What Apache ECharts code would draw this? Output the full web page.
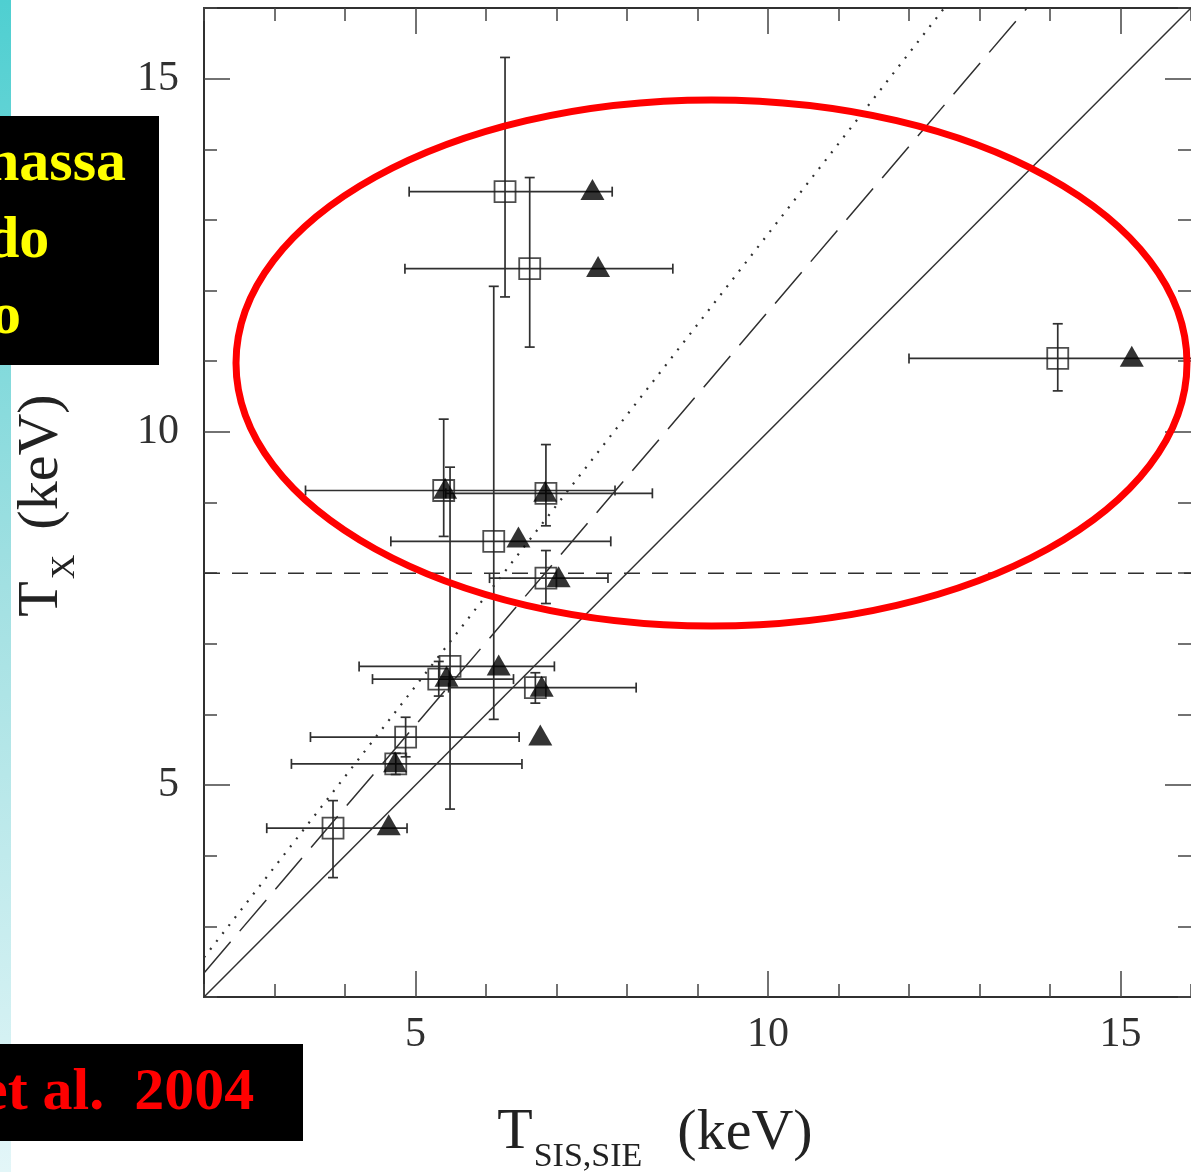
<!DOCTYPE html>
<html>
<head>
<meta charset="utf-8">
<script src="https://cdn.jsdelivr.net/npm/echarts@6/dist/echarts.min.js"></script>
<style>
  html, body { margin: 0; padding: 0; background: #ffffff; }
  #chart { width: 1191px; height: 1172px; }
</style>
</head>
<body>
<div id="chart"></div>
<script>
// Axis ranges and tick labels
const xRange = [2, 16];
const yRange = [2, 16];
const majorTicks = [5, 10, 15];

// Open squares: lensing temperature vs X-ray temperature, with error bars
const sqX   = [6.27, 6.62, 14.11, 5.40, 6.85, 6.11, 6.85, 5.49, 5.33, 6.70, 4.86, 4.72, 3.83];
const sqY   = [13.40, 12.31, 11.04, 9.17, 9.13, 8.45, 7.93, 6.68, 6.50, 6.38, 5.68, 5.30, 4.39];
const sqXLo = [4.91, 4.85, 12.00, 3.44, 5.43, 4.65, 6.05, 4.20, 4.39, 5.47, 3.51, 3.24, 2.89];
const sqXHi = [7.79, 8.65, 16.60, 7.83, 8.36, 7.77, 7.73, 6.97, 6.39, 8.13, 6.47, 6.51, 4.88];
const sqYLo = [11.91, 11.20, 10.58, 8.52, 8.67, 5.93, 7.57, 4.66, 6.26, 6.16, 5.40, 5.15, 3.69];
const sqYHi = [15.30, 13.60, 11.53, 10.18, 9.82, 12.06, 8.32, 9.50, 6.75, 6.59, 5.96, 5.45, 4.78];

// Filled triangles
const triX = [7.51, 7.59, 15.16, 5.42, 6.84, 6.46, 7.03, 6.18, 5.44, 6.79, 6.77, 4.71, 4.62];
const triY = [13.43, 12.34, 11.07, 9.20, 9.16, 8.51, 7.95, 6.70, 6.54, 6.40, 5.71, 5.33, 4.44];

// Reference relations T_X = k * T_SIS (solid, dashed, dotted) and the 8 keV level
const relSlopes = [1.0, 1.17, 1.28];
const relStyles = ['solid', [41, 14], [2, 8]];
const levelY = 8;

const INK = '#303030';
const serif = '"Liberation Serif", "Times New Roman", serif';

const errData = sqX.map((x, i) => [x, sqY[i], sqXLo[i], sqXHi[i], sqYLo[i], sqYHi[i]]);
const sqData = sqX.map((x, i) => [x, sqY[i]]);
const triData = triX.map((x, i) => [x, triY[i]]);

function renderErrorBars(params, api) {
  const x = api.value(0), y = api.value(1);
  const pL = api.coord([api.value(2), y]);
  const pR = api.coord([api.value(3), y]);
  const pB = api.coord([x, api.value(4)]);
  const pT = api.coord([x, api.value(5)]);
  const cap = 5;
  const style = { stroke: INK, lineWidth: 1.7 };
  const seg = (x1, y1, x2, y2) => ({ type: 'line', shape: { x1, y1, x2, y2 }, style });
  return {
    type: 'group',
    children: [
      seg(pL[0], pL[1], pR[0], pR[1]),
      seg(pL[0], pL[1] - cap, pL[0], pL[1] + cap),
      seg(pR[0], pR[1] - cap, pR[0], pR[1] + cap),
      seg(pB[0], pB[1], pT[0], pT[1]),
      seg(pB[0] - cap, pB[1], pB[0] + cap, pB[1]),
      seg(pT[0] - cap, pT[1], pT[0] + cap, pT[1])
    ]
  };
}

const tickLine = { color: '#444', width: 1.5 };
function isVertical(position) { return position === 'left' || position === 'right'; }
function minorAxis(position, withLabels) {
  const r = isVertical(position) ? yRange : xRange;
  return {
    type: 'value', position, min: r[0], max: r[1],
    interval: 1,
    axisLine: { show: position !== 'right', onZero: false, lineStyle: { color: INK, width: 2 } },
    axisTick: { show: true, inside: true, length: 13, lineStyle: tickLine },
    axisLabel: withLabels ? {
      show: true, customValues: majorTicks, color: INK, fontFamily: serif, fontSize: 42,
      margin: (position === 'left') ? 25 : 17
    } : { show: false },
    splitLine: { show: false }
  };
}
function majorAxis(position) {
  const r = isVertical(position) ? yRange : xRange;
  return {
    type: 'value', position, min: r[0], max: r[1],
    interval: 1,
    axisLine: { show: false, onZero: false },
    axisTick: { show: true, inside: true, length: 26, customValues: majorTicks, lineStyle: tickLine },
    axisLabel: { show: false },
    splitLine: { show: false }
  };
}

const relSeries = relSlopes.map((k, i) => ({
  type: 'line',
  xAxisIndex: 0, yAxisIndex: 0,
  data: [[xRange[0], k * xRange[0]], [xRange[1], k * xRange[1]]],
  showSymbol: false, symbol: 'none', clip: true, silent: true,
  lineStyle: { color: INK, width: i === 2 ? 2.2 : 1.5, type: relStyles[i] },
  z: 2
}));

const chart = echarts.init(document.getElementById('chart'), null, { renderer: 'canvas' });
chart.setOption({
  animation: false,
  backgroundColor: '#ffffff',
  grid: { left: 204, top: 8, width: 989, height: 989 },
  xAxis: [minorAxis('bottom', true), majorAxis('bottom'), minorAxis('top', false), majorAxis('top')],
  yAxis: [minorAxis('left', true), majorAxis('left'), minorAxis('right', false), majorAxis('right')],
  series: [
    ...relSeries,
    {
      type: 'line',
      data: [[xRange[0], levelY], [xRange[1], levelY]],
      showSymbol: false, symbol: 'none', silent: true,
      lineStyle: { color: INK, width: 1.5, type: [16, 12] },
      z: 2
    },
    {
      type: 'custom',
      data: errData,
      renderItem: renderErrorBars,
      encode: { x: [0, 2, 3], y: [1, 4, 5] },
      clip: true, silent: true,
      z: 3
    },
    {
      type: 'scatter',
      data: sqData,
      symbol: 'rect', symbolSize: 21,
      itemStyle: { color: 'rgba(0,0,0,0)', borderColor: '#222', borderWidth: 1.8 },
      silent: true, z: 4
    },
    {
      type: 'scatter',
      data: triData,
      symbol: 'triangle', symbolSize: [24, 21],
      itemStyle: { color: '#000000' },
      silent: true, z: 5
    }
  ],
  graphic: [
    {
      type: 'rect', z: 1, silent: true,
      shape: { x: 0, y: 0, width: 11, height: 1172 },
      style: {
        fill: new echarts.graphic.LinearGradient(0, 0, 0, 1, [
          { offset: 0, color: '#4fcfd1' },
          { offset: 0.5, color: '#a2e0e2' },
          { offset: 1, color: '#e3f6f8' }
        ])
      }
    },
    {
      type: 'ellipse', z: 50, silent: true,
      shape: { cx: 711.5, cy: 363, rx: 475.5, ry: 263 },
      style: { fill: 'none', stroke: '#ff0000', lineWidth: 7 }
    },
    {
      type: 'rect', z: 60, silent: true,
      shape: { x: 0, y: 116, width: 159, height: 249 },
      style: { fill: '#000000' }
    },
    { type: 'text', z: 61, x: -14, y: 164, silent: true,
      style: { text: 'nassa', font: 'bold 60px ' + serif, fill: '#ffff00', align: 'left', verticalAlign: 'middle' } },
    { type: 'text', z: 61, x: -14, y: 241, silent: true,
      style: { text: 'do', font: 'bold 60px ' + serif, fill: '#ffff00', align: 'left', verticalAlign: 'middle' } },
    { type: 'text', z: 61, x: -9, y: 317, silent: true,
      style: { text: 'o', font: 'bold 60px ' + serif, fill: '#ffff00', align: 'left', verticalAlign: 'middle' } },
    {
      type: 'rect', z: 60, silent: true,
      shape: { x: 0, y: 1044, width: 303, height: 97 },
      style: { fill: '#000000' }
    },
    { type: 'text', z: 61, x: -19, y: 1093, silent: true,
      style: { text: 'et al.  2004', font: 'bold 60px ' + serif, fill: '#ff0000', align: 'left', verticalAlign: 'middle' } },
    // y-axis title, reading upwards
    { type: 'text', z: 10, x: 42, y: 599, rotation: Math.PI / 2, silent: true,
      style: { text: 'T', font: '58px ' + serif, fill: '#222', align: 'center', verticalAlign: 'middle' } },
    { type: 'text', z: 10, x: 65, y: 567, rotation: Math.PI / 2, silent: true,
      style: { text: 'X', font: '34px ' + serif, fill: '#222', align: 'center', verticalAlign: 'middle' } },
    { type: 'text', z: 10, x: 42, y: 462, rotation: Math.PI / 2, silent: true,
      style: { text: '(keV)', font: '58px ' + serif, fill: '#222', align: 'center', verticalAlign: 'middle' } },
    // x-axis title
    { type: 'text', z: 10, x: 515, y: 1133, silent: true,
      style: { text: 'T', font: '58px ' + serif, fill: '#222', align: 'center', verticalAlign: 'middle' } },
    { type: 'text', z: 10, x: 588, y: 1157, silent: true,
      style: { text: 'SIS,SIE', font: '34px ' + serif, fill: '#222', align: 'center', verticalAlign: 'middle' } },
    { type: 'text', z: 10, x: 745, y: 1134, silent: true,
      style: { text: '(keV)', font: '58px ' + serif, fill: '#222', align: 'center', verticalAlign: 'middle' } }
  ]
});
</script>
</body>
</html>
